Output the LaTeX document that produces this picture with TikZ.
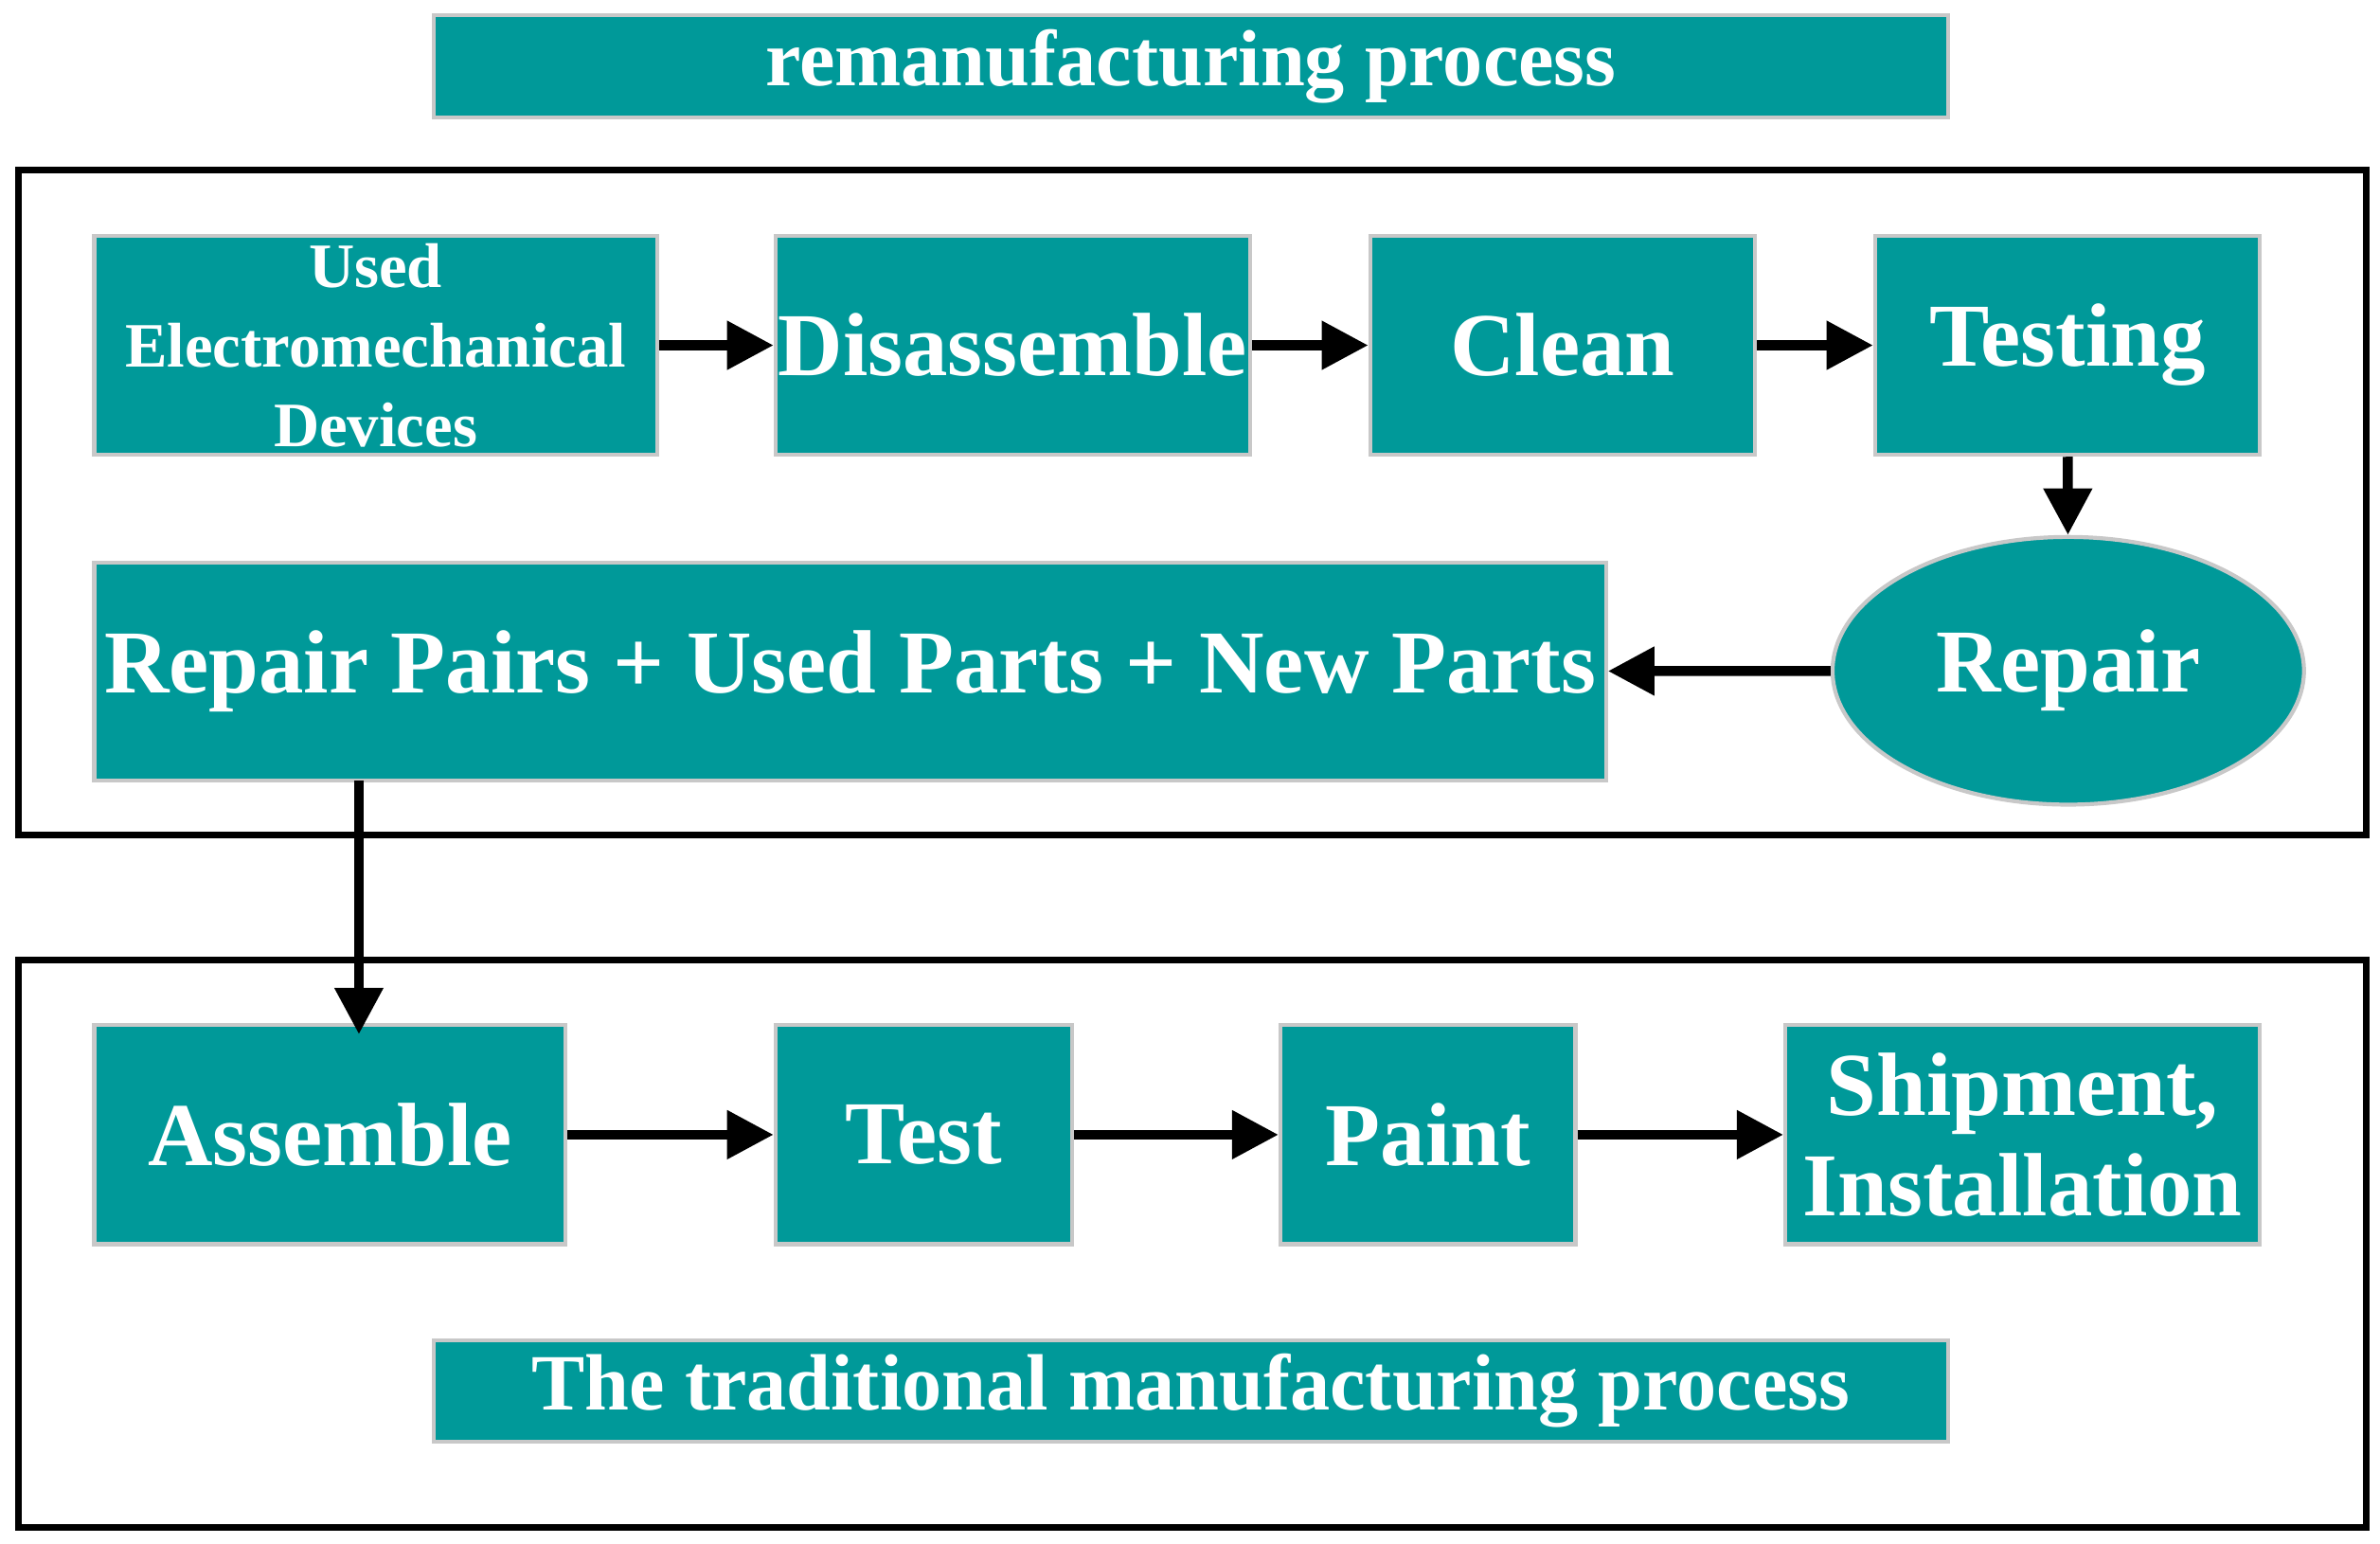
\documentclass[tikz,border=0pt]{standalone}
\usepackage{fontspec}
\setmainfont{Liberation Serif}
\usetikzlibrary{arrows.meta,shapes.geometric}
\definecolor{teal}{RGB}{0,153,153}
\definecolor{rim}{RGB}{200,200,200}
\begin{document}
\begin{tikzpicture}[x=0.01606cm,y=-0.01606cm]
\tikzset{
  box/.style={draw=rim,line width=1.2pt,fill=teal,text=white,font=\bfseries\fontsize{27}{30}\selectfont,align=center,inner sep=0pt},
  frame/.style={draw=black,line width=2pt},
  arr/.style={-{Triangle[length=14pt,width=14pt]},line width=3pt}
}
\useasboundingbox (0,0) rectangle (1565,1015);
% frames
\draw[frame] (12,112) rectangle (1556,549);
\draw[frame] (12,631) rectangle (1556,1004);
% titles
\node[box,minimum width=996*0.01606cm,minimum height=67*0.01606cm,font=\bfseries\fontsize{24}{28}\selectfont] (top) at (783,43.5) {remanufacturing process};
\node[box,minimum width=996*0.01606cm,minimum height=67*0.01606cm,font=\bfseries\fontsize{24}{28}\selectfont] (bot) at (783,914.5) {The traditional manufacturing process};
% upper row
\node[box,minimum width=370*0.01606cm,minimum height=144*0.01606cm,font=\bfseries\fontsize{19}{24}\selectfont] (used) at (247,227) {Used\\Electromechanical\\Devices};
\node[box,minimum width=312*0.01606cm,minimum height=144*0.01606cm] (dis) at (666,227) {Disassemble};
\node[box,minimum width=253*0.01606cm,minimum height=144*0.01606cm] (clean) at (1027.5,227) {Clean};
\node[box,minimum width=253*0.01606cm,minimum height=144*0.01606cm] (testing) at (1359.5,227) {Testing};
\node[box,ellipse,minimum width=310*0.01606cm,minimum height=176*0.01606cm] (repair) at (1360,441) {Repair};
\node[box,minimum width=994*0.01606cm,minimum height=143*0.01606cm] (parts) at (559,441.5) {Repair Pairs + Used Parts + New Parts};
% lower row
\node[box,minimum width=310*0.01606cm,minimum height=144*0.01606cm] (asm) at (217,746) {Assemble};
\node[box,minimum width=195*0.01606cm,minimum height=144*0.01606cm] (test) at (607.5,746) {Test};
\node[box,minimum width=194*0.01606cm,minimum height=144*0.01606cm] (paint) at (939,746) {Paint};
\node[box,minimum width=312*0.01606cm,minimum height=144*0.01606cm] (ship) at (1330,746) {Shipment,\\Installation};
% connectors
\draw[arr] (used) -- (dis);
\draw[arr] (dis) -- (clean);
\draw[arr] (clean) -- (testing);
\draw[arr] (testing) -- (repair);
\draw[arr] (repair) -- (parts);
\coordinate (drop) at (236,513);
\coordinate (land) at (236,680);
\draw[arr] (drop) -- (land);
\draw[arr] (asm) -- (test);
\draw[arr] (test) -- (paint);
\draw[arr] (paint) -- (ship);
\end{tikzpicture}
\end{document}
